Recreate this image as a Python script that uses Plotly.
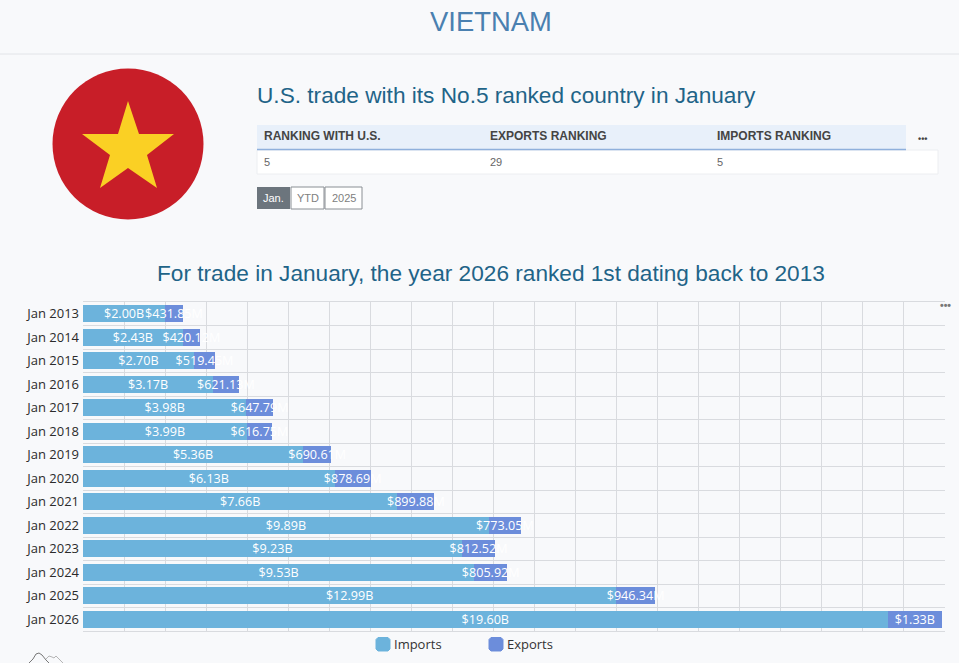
import plotly.graph_objects as go

# Monthly trade figures for January of each year
years = ["Jan 2013", "Jan 2014", "Jan 2015", "Jan 2016", "Jan 2017", "Jan 2018", "Jan 2019",
         "Jan 2020", "Jan 2021", "Jan 2022", "Jan 2023", "Jan 2024", "Jan 2025", "Jan 2026"]
imports_b = [2.00, 2.43, 2.70, 3.17, 3.98, 3.99, 5.36, 6.13, 7.66, 9.89, 9.23, 9.53, 12.99, 19.60]
exports_m = [431.85, 420.12, 519.45, 621.13, 647.79, 616.75, 690.61, 878.69, 899.88, 773.05,
             812.52, 805.92, 946.34, 1330.00]

table_headers = ["RANKING WITH U.S.", "EXPORTS RANKING", "IMPORTS RANKING"]
table_values = ["5", "29", "5"]
period_buttons = ["Jan.", "YTD", "2025"]

W, H = 959, 663
PAGE_BG = "#f8f9fb"
IMPORT_COLOR = "#6cb3dc"
EXPORT_COLOR = "#6c8ddb"
TITLE_BLUE = "#1f6488"
GRID = "#d9dbdf"
SANS = "Liberation Sans, Arial, sans-serif"
UI = "Open Sans, sans-serif"


def px(x):
    return x / W


def py(y):
    return 1 - y / H


def money(millions):
    if millions >= 1000:
        return f"${millions / 1000:.2f}B"
    return f"${millions:.2f}M"


def page_path(points, close=True):
    body = "L".join(f"{px(x):.5f},{py(y):.5f}" for x, y in points)
    return "M" + body + ("Z" if close else "")


def rounded_swatch(x0, y0, x1, y1, r, color):
    # Small rounded square, built from chamfered corners
    pts = [(x0 + r, y0), (x1 - r, y0), (x1, y0 + r), (x1, y1 - r),
           (x1 - r, y1), (x0 + r, y1), (x0, y1 - r), (x0, y0 + r)]
    return dict(type="path", xref="paper", yref="paper", layer="above",
                path=page_path(pts), fillcolor=color, line=dict(color=color, width=1))


def rect(x0, y0, x1, y1, fill, line=None, lw=0):
    return dict(type="rect", xref="paper", yref="paper", layer="below",
                x0=px(x0), x1=px(x1), y0=py(y1), y1=py(y0),
                fillcolor=fill, line=dict(color=line or fill, width=lw))


def label(x, y, text, size, color, anchor="left", family=SANS):
    return dict(xref="paper", yref="paper", x=px(x), y=py(y), text=text, showarrow=False,
                xanchor=anchor, yanchor="middle", borderpad=0,
                font=dict(family=family, size=size, color=color))


fig = go.Figure()
fig.add_bar(y=years, x=imports_b, name="Imports", orientation="h",
            marker=dict(color=IMPORT_COLOR, line=dict(width=0)),
            text=[money(v * 1000) for v in imports_b])
fig.add_bar(y=years, x=[v / 1000 for v in exports_m], name="Exports", orientation="h",
            marker=dict(color=EXPORT_COLOR, line=dict(width=0)),
            text=[money(v) for v in exports_m])
fig.update_traces(textposition="inside", insidetextanchor="middle", textangle=0,
                  constraintext="none", cliponaxis=False,
                  insidetextfont=dict(family=UI, size=12.6, color="#ffffff"),
                  hovertemplate="%{y}: %{text}<extra>%{fullData.name}</extra>")

shapes = [
    # header rule
    dict(type="line", xref="paper", yref="paper", layer="below",
         x0=0, x1=1, y0=py(54), y1=py(54), line=dict(color="#e2e4e8", width=1)),
    # round flag
    dict(type="circle", xref="paper", yref="paper", layer="below",
         x0=px(52.5), x1=px(203.5), y0=py(219.5), y1=py(68.5),
         fillcolor="#c81e28", line=dict(width=0)),
    dict(type="path", xref="paper", yref="paper", layer="below",
         path=page_path([(128, 101), (139, 134), (174, 134), (147, 155), (157, 188),
                         (128, 168), (100, 188), (110, 155), (82, 134), (118, 134)]),
         fillcolor="#fad024", line=dict(width=0)),
    # rankings table
    rect(257, 150, 938, 174, "#ffffff", "#eceef1", 1),
    rect(257, 125, 906, 149, "#e8f0fa"),
    dict(type="line", xref="paper", yref="paper", layer="below",
         x0=px(257), x1=px(906), y0=py(149.5), y1=py(149.5),
         line=dict(color="#8fb0dc", width=1.5)),
    # period buttons
    rect(257, 187, 290, 209, "#6c757d"),
    rect(291, 187, 324, 209, "#ffffff", "#8a8f94", 1),
    rect(325, 187, 362, 209, "#ffffff", "#8a8f94", 1),
    # legend swatches
    rounded_swatch(376, 637.5, 390, 651, 2, IMPORT_COLOR),
    rounded_swatch(489, 637.5, 503, 651, 2, EXPORT_COLOR),
    # logo peeking in at the page foot
    dict(type="path", xref="paper", yref="paper", layer="above",
         path=page_path([(29, 663), (33, 659), (36, 654), (39, 653), (42, 655), (46, 660), (49, 663)], close=False),
         line=dict(color="#777777", width=1)),
    dict(type="path", xref="paper", yref="paper", layer="above",
         path=page_path([(46, 659), (49, 656), (52, 657), (54, 658), (56, 656), (59, 659), (63, 663)], close=False),
         line=dict(color="#b5b5b5", width=1)),
]

annotations = [
    label(491, 21, "VIETNAM", 27.4, "#4a80b0", "center"),
    label(256, 95.5, "U.S. trade with its No.5 ranked country in January", 22.65, TITLE_BLUE),
    label(491, 273, "For trade in January, the year 2026 ranked 1st dating back to 2013", 22.65, TITLE_BLUE, "center"),
    label(922, 138.5, "<b>•••</b>", 9, "#444444", "center"),
    label(945, 305, "<b>•••</b>", 10.5, "#777777", "center"),
    label(392.5, 643.5, "Imports", 13, "#333333", family=UI),
    label(505.5, 643.5, "Exports", 13, "#333333", family=UI),
]
for x, head, val in zip([263, 489, 715.5], table_headers, table_values):
    annotations.append(label(x, 136, f"<b>{head}</b>", 12, "#444444"))
    annotations.append(label(x, 161.5, val, 11, "#666666"))
for x, text, color in zip([273.5, 307.5, 343.5], period_buttons, ["#ffffff", "#808080", "#808080"]):
    annotations.append(label(x, 198, text, 11, color, "center"))

fig.update_layout(
    width=W, height=H, autosize=False,
    margin=dict(l=0, r=0, t=0, b=0),
    paper_bgcolor=PAGE_BG, plot_bgcolor=PAGE_BG,
    barmode="stack", bargap=0.27, showlegend=False,
    shapes=shapes, annotations=annotations,
    xaxis=dict(domain=[px(83), px(945)], range=[0, 21], dtick=1, tick0=0,
               showticklabels=False, ticks="", showgrid=True,
               gridcolor=GRID, gridwidth=1, zeroline=False,
               showline=True, linecolor=GRID, mirror=True),
    yaxis=dict(domain=[py(631), py(302)], autorange="reversed", type="category",
               tickson="boundaries", ticks="", showgrid=True, gridcolor=GRID, gridwidth=1,
               tickfont=dict(family=UI, size=13, color="#2b2b2b"), ticklabelstandoff=3),
)

fig.write_html("out.html", config=dict(displayModeBar=False))
